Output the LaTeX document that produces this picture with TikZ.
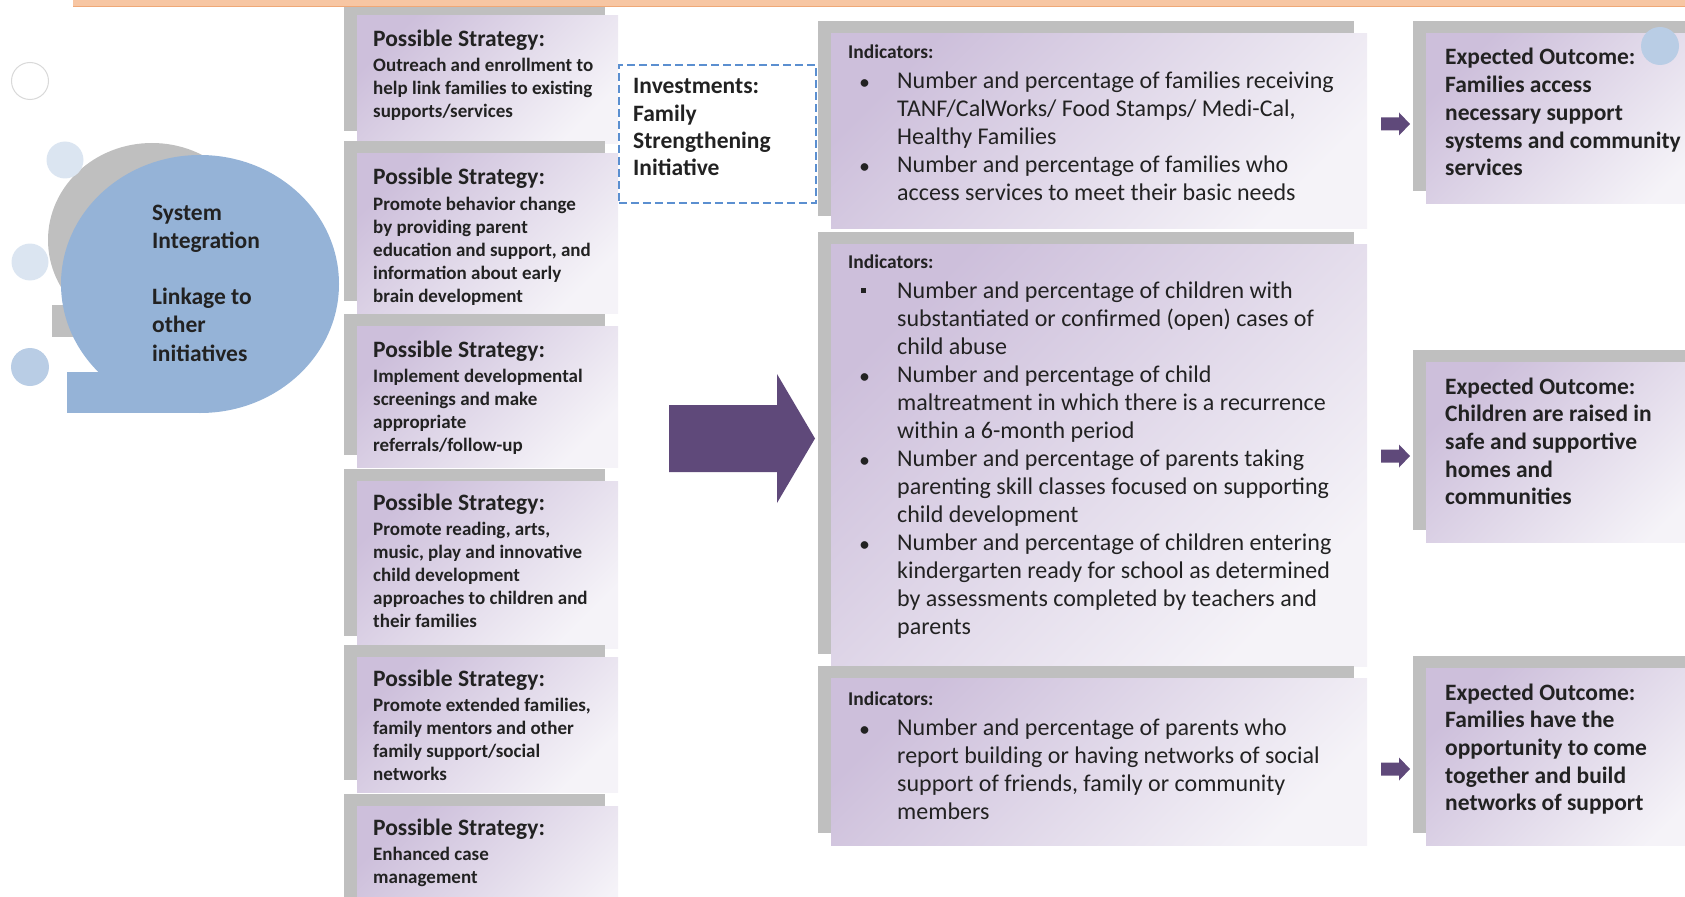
\documentclass[tikz,border=0pt]{standalone}
\usepackage{fontspec}
\setmainfont{Carlito}
\usetikzlibrary{positioning, shadows}
\definecolor{mPurple}{HTML}{5F497A}
\definecolor{mLilac}{HTML}{CDBFDB}
\definecolor{mPale}{HTML}{F5F3F8}
\definecolor{mShadow}{HTML}{BFBFBF}
\definecolor{mBlue}{HTML}{95B3D7}
\definecolor{mDot}{HTML}{DBE5F1}
\definecolor{mDotDark}{HTML}{B9CDE5}
\definecolor{mDash}{HTML}{5B8FD0}
\definecolor{mOrange}{HTML}{F7C6A3}
\definecolor{mOrangeDark}{HTML}{EFA877}
\definecolor{mInk}{HTML}{222222}

\tikzset{
  card/.style={anchor=north west, inner sep=0pt, top color=mLilac, bottom color=mPale,
    shading angle=45,
    drop shadow={shadow xshift=-13pt, shadow yshift=12pt, fill=mShadow, opacity=1}},
  cardtext/.style={anchor=base west, inner sep=0pt, text=mInk},
}

% text blocks for the three columns of cards
\newcommand{\strat}[1]{\parbox[t]{240pt}{\bfseries\fontsize{19}{23}\selectfont
  {\fontsize{23.5}{23}\selectfont Possible Strategy:}\\[2pt]#1}}
\newcommand{\outcome}[1]{\parbox[t]{262pt}{\bfseries\fontsize{23.5}{27.7}\selectfont
  Expected Outcome:\\#1}}
\newcommand{\indlist}[1]{\parbox[t]{515pt}{\fontsize{24}{28}\selectfont
  {\bfseries\fontsize{19.5}{28}\selectfont Indicators:}\par\vspace{2pt}#1}}
\newcommand{\ibul}{\par\hangindent=49pt\hangafter=1\noindent
  \makebox[49pt][l]{\hspace{12pt}{\bfseries\fontsize{18}{18}\selectfont\textbullet}}}
\newcommand{\isq}{\par\hangindent=49pt\hangafter=1\noindent
  \makebox[49pt][l]{\hspace{13pt}\rule[5.5pt]{5pt}{5pt}}}

\begin{document}
\begin{tikzpicture}[x=1pt, y=-1pt]
  \useasboundingbox (0,0) rectangle (1685,896);

  % bubble on the left
  \fill[mShadow] (152,240) ellipse [x radius=104, y radius=97];
  \fill[mShadow] (52,305) rectangle (152,337);
  \fill[mBlue] (200,284) ellipse [x radius=139, y radius=129];
  \fill[mBlue] (67,372) rectangle (200,413);
  \node[cardtext, font=\bfseries\fontsize{23.5}{28.2}\selectfont] (hub) at (152,220)
    {\parbox[t]{150pt}{System\\Integration\\[28.2pt]Linkage to\\other\\initiatives}};

  \draw[gray!30, line width=1pt, fill=white] (30,81) circle [radius=18.5];
  \fill[mDot] (65,160) circle [radius=18.5];
  \fill[mDot] (30,262) circle [radius=18.5];
  \fill[mDotDark] (30,367) circle [radius=19];

  % strategies
  \foreach \yy/\hh/\dy/\txt [count=\i] in {
    15/128/32/{Outreach and enrollment to\\help link families to existing\\supports/services},
    153/160/32/{Promote behavior change\\by providing parent\\education and support, and\\information about early\\brain development},
    326/141/31/{Implement developmental\\screenings and make\\appropriate\\referrals/follow-up},
    481/167/29/{Promote reading, arts,\\music, play and innovative\\child development\\approaches to children and\\their families},
    657/135/29/{Promote extended families,\\family mentors and other\\family support/social\\networks},
    806/140/29/{Enhanced case\\management}} {
    \node[card, minimum width=261pt, minimum height=\hh] (strat\i) at (357,\yy) {};
    \node[cardtext] (stext\i) at ([shift={(16,\dy)}]strat\i.north west) {\strat{\txt}};
  }

  % investments
  \node[draw=mDash, dash pattern=on 8pt off 4pt, line width=1.8pt, anchor=north west,
    inner sep=0pt, minimum width=197pt, minimum height=138pt] (invest) at (618,64) {};
  \node[cardtext, font=\bfseries\fontsize{23.5}{27.3}\selectfont] (itext) at ([shift={(15,30)}]invest.north west)
    {\parbox[t]{175pt}{Investments:\\Family\\Strengthening\\Initiative}};

  \fill[mPurple] (669,405) -- (777,405) -- (777,374) -- (815,438.5) -- (777,503)
    -- (777,472) -- (669,472) -- cycle;

  % indicators
  \node[card, minimum width=536pt, minimum height=195pt] (ind1) at (831,33) {};
  \node[cardtext] (itxt1) at ([shift={(17,26)}]ind1.north west) {\indlist{%
    \ibul Number and percentage of families receiving\\TANF/CalWorks/ Food Stamps/ Medi-Cal,\\Healthy Families
    \ibul Number and percentage of families who\\access services to meet their basic needs}};

  \node[card, minimum width=536pt, minimum height=422pt] (ind2) at (831,244) {};
  \node[cardtext] (itxt2) at ([shift={(17,24)}]ind2.north west) {\indlist{%
    \isq Number and percentage of children with\\substantiated or confirmed (open) cases of\\child abuse
    \ibul Number and percentage of child\\maltreatment in which there is a recurrence\\within a 6-month period
    \ibul Number and percentage of parents taking\\parenting skill classes focused on supporting\\child development
    \ibul Number and percentage of children entering\\kindergarten ready for school as determined\\by assessments completed by teachers and\\parents}};

  \node[card, minimum width=536pt, minimum height=167pt] (ind3) at (831,678) {};
  \node[cardtext] (itxt3) at ([shift={(17,27)}]ind3.north west) {\indlist{%
    \ibul Number and percentage of parents who\\report building or having networks of social\\support of friends, family or community\\members}};

  % outcomes
  \foreach \yy/\hh/\txt [count=\i] in {
    33/170/{Families access\\necessary support\\systems and community\\services},
    362/180/{Children are raised in\\safe and supportive\\homes and\\communities},
    668/177/{Families have the\\opportunity to come\\together and build\\networks of support}} {
    \node[card, minimum width=290pt, minimum height=\hh] (out\i) at (1426,\yy) {};
    \node[cardtext] (otext\i) at ([shift={(19,32)}]out\i.north west) {\outcome{\txt}};
  }
  \foreach \yy in {124,456,769}
    \fill[mPurple] (1381,\yy-6.5) -- (1399,\yy-6.5) -- (1399,\yy-11.5) -- (1410,\yy)
      -- (1399,\yy+11.5) -- (1399,\yy+6.5) -- (1381,\yy+6.5) -- cycle;
  \fill[mDotDark] (1660,46) circle [radius=19];

  % rule along the top
  \fill[mOrange] (73,0) rectangle (1685,6);
  \draw[mOrangeDark, line width=1.2pt] (73,6.5) -- (1685,6.5);
\end{tikzpicture}
\end{document}
